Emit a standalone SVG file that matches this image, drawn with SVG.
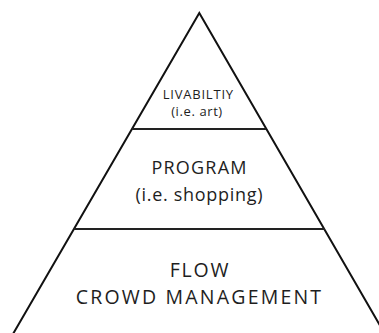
<svg xmlns="http://www.w3.org/2000/svg" width="379" height="333" viewBox="0 0 379 333">
<style>
.edge{stroke:#111;stroke-width:2;fill:none;stroke-linejoin:miter}
.div{stroke:#222;stroke-width:2.2;fill:none}
text{font-family:"Open Sans","DejaVu Sans",sans-serif;fill:#1e1e1e;text-anchor:middle}
</style>
<rect width="379" height="333" fill="#fff"/>
<g id="connectors">
<polyline class="edge" points="13,334 199.3,13 385,334"/>
<line class="div" x1="132" y1="129" x2="266" y2="129"/>
<line class="div" x1="74" y1="229" x2="325" y2="229"/>
</g>
<g id="livability">
<text x="198.3" y="98.5" font-size="13" letter-spacing="0.8">LIVABILTIY</text>
<text x="197" y="115.5" font-size="13" letter-spacing="0.6">(i.e. art)</text>
</g>
<g id="program">
<text x="199.6" y="174" font-size="18" letter-spacing="1.2">PROGRAM</text>
<text x="199.4" y="201" font-size="18" letter-spacing="0.7">(i.e. shopping)</text>
</g>
<g id="flow">
<text x="200" y="277" font-size="19.5" letter-spacing="1.8">FLOW</text>
<text x="199.5" y="304" font-size="19.5" letter-spacing="2.2">CROWD MANAGEMENT</text>
</g>
</svg>
